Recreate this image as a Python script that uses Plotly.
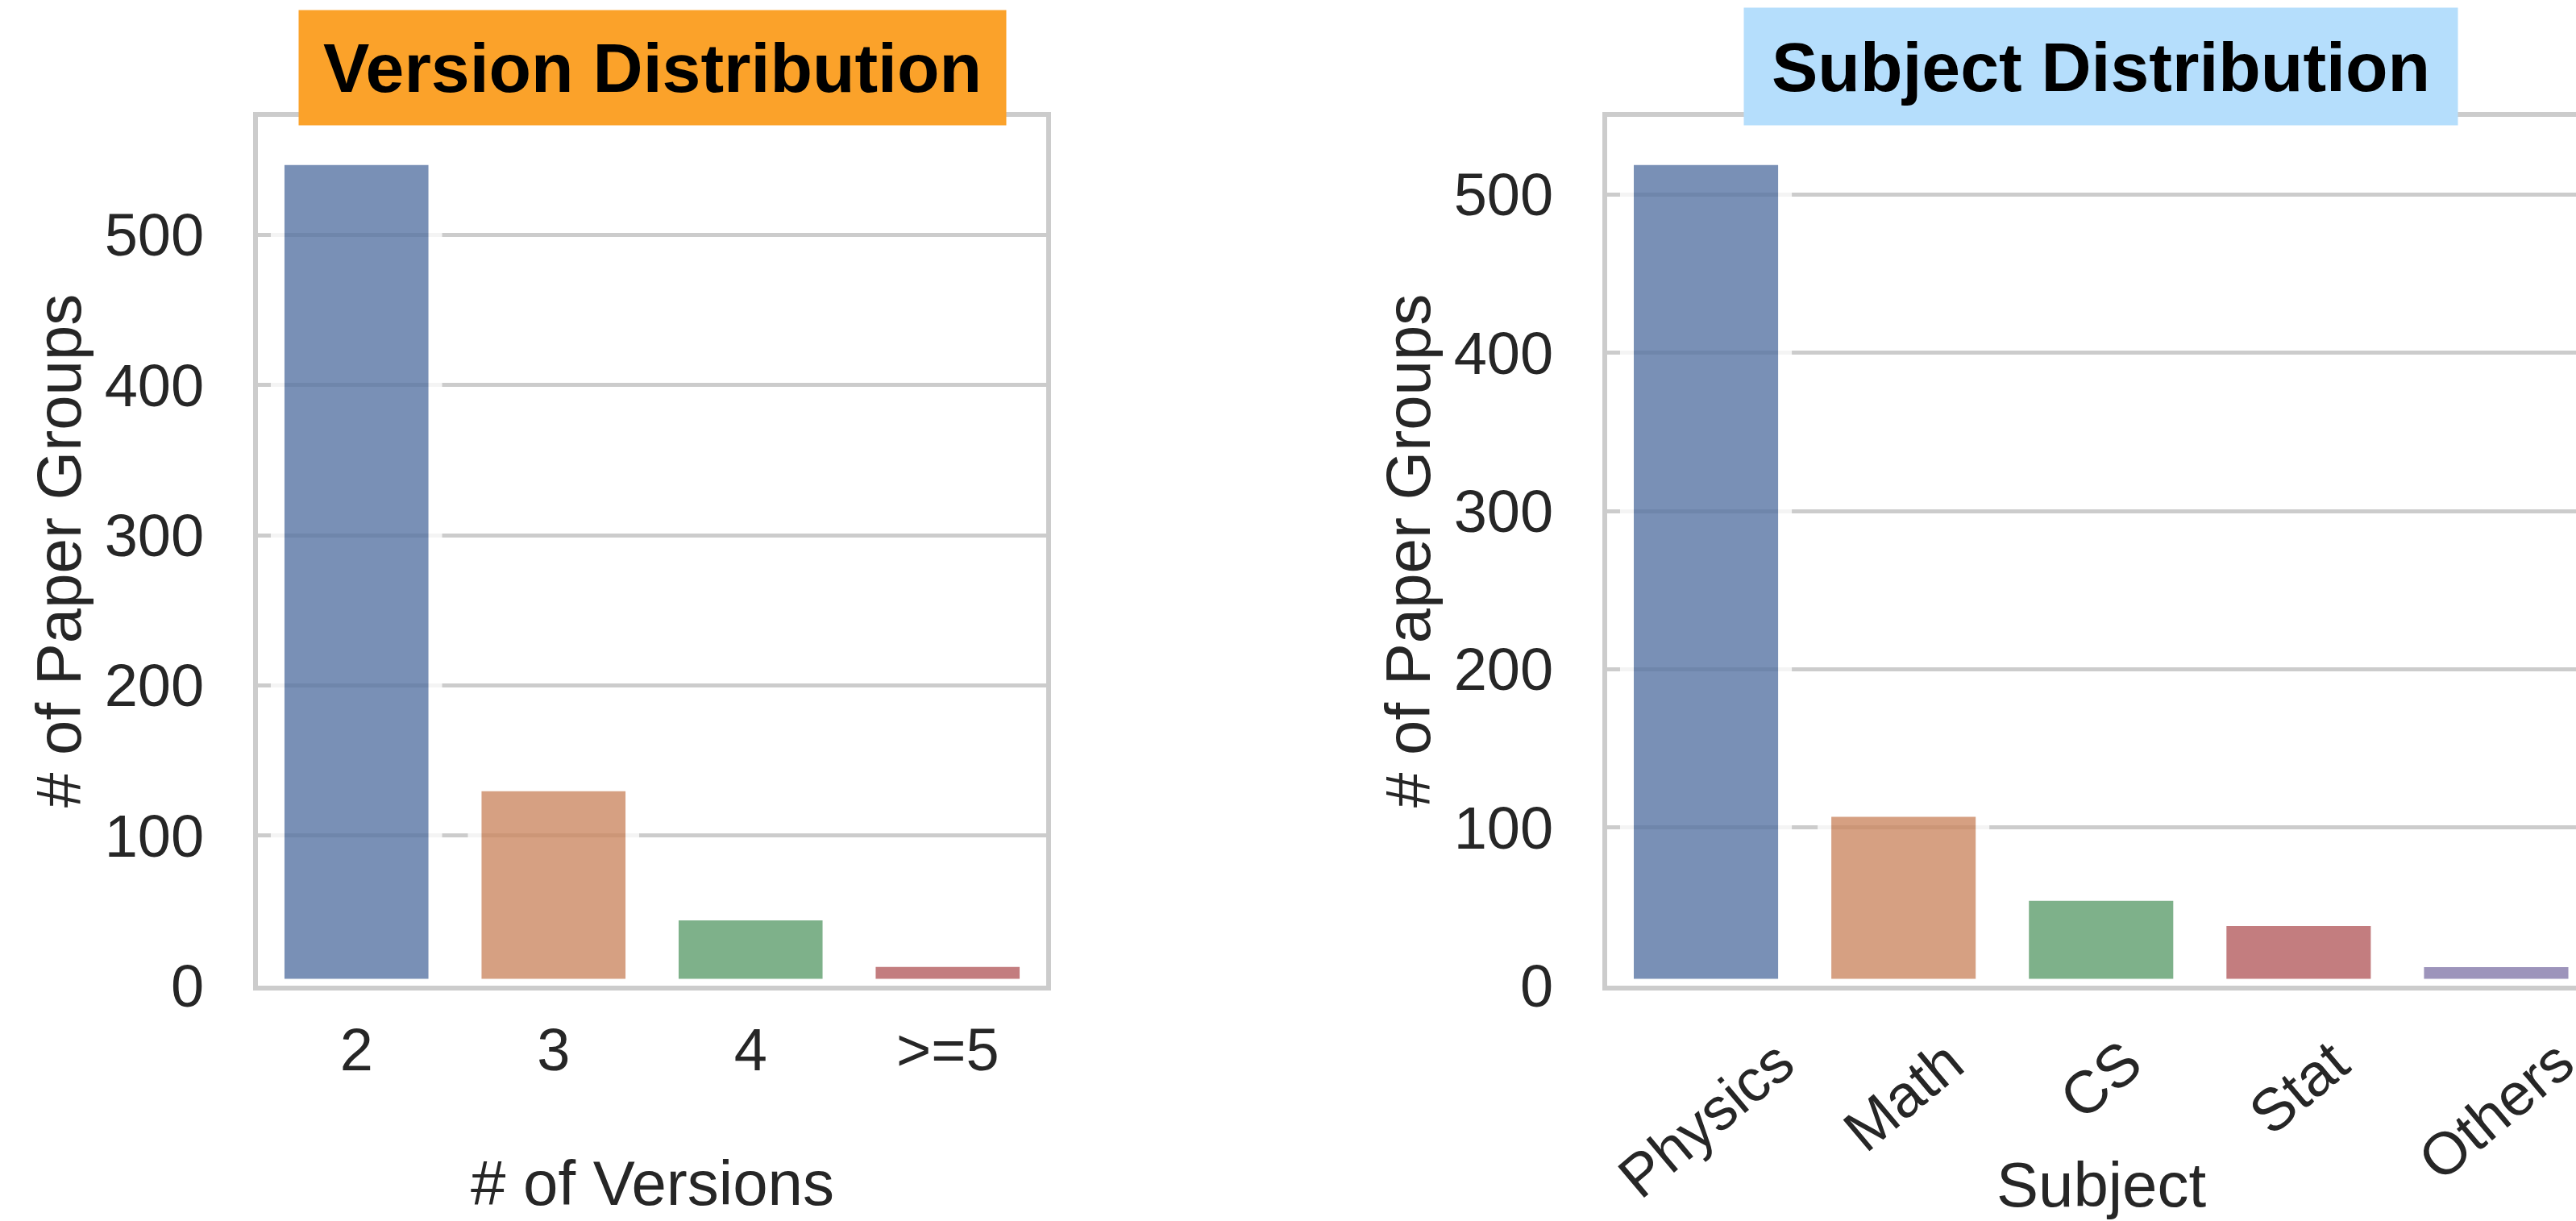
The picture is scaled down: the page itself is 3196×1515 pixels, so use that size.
import plotly.graph_objects as go

# ---- data ----
versions = ["2", "3", "4", ">=5"]
version_counts = [551, 134, 48, 17]
subjects = ["Physics", "Math", "CS", "Stat", "Others"]
subject_counts = [523, 111, 58, 42, 16]

# seaborn "deep" palette desaturated (barplot saturation=0.75)
palette = ["#5875A4", "#CC8963", "#5F9E6E", "#B55D60", "#857AAB"]

W, H = 3196, 1515
FONT = "Liberation Sans, Arial, Helvetica, sans-serif"
TXT = "#262626"
GRID = "#cccccc"

fig = go.Figure()

fig.add_trace(go.Bar(
    x=versions, y=version_counts, xaxis="x", yaxis="y",
    width=0.8,
    marker=dict(color=palette[:len(versions)], opacity=0.8,
                line=dict(color="white", width=17)),
    showlegend=False, hoverinfo="skip",
))
fig.add_trace(go.Bar(
    x=subjects, y=subject_counts, xaxis="x2", yaxis="y2",
    width=0.8,
    marker=dict(color=palette[:len(subjects)], opacity=0.8,
                line=dict(color="white", width=17)),
    showlegend=False, hoverinfo="skip",
))

ydom = [(H - 1223) / H, (H - 145) / H]
xdom1 = [320 / W, 1298 / W]
xdom2 = [1994 / W, 1.0]

common_y = dict(
    showgrid=True, gridcolor=GRID, gridwidth=5, zeroline=False,
    showline=True, linecolor=GRID, linewidth=6, automargin=False,
    tick0=0, dtick=100, ticks="", ticklabelstandoff=46,
    tickfont=dict(family=FONT, size=74, color=TXT),
)

fig.update_layout(
    width=W, height=H,
    margin=dict(l=0, r=0, t=0, b=0, autoexpand=False),
    paper_bgcolor="white", plot_bgcolor="white",
    bargap=0.2,
    xaxis=dict(domain=xdom1, type="category", range=[-0.5, 3.5],
               showgrid=False, zeroline=False, automargin=False,
               showline=True, mirror=True, linecolor=GRID, linewidth=6,
               ticks="", ticklabelstandoff=10,
               tickfont=dict(family=FONT, size=74, color=TXT)),
    yaxis=dict(domain=ydom, range=[0, 1.05 * max(version_counts)],
               mirror=True, anchor="x", **common_y),
    xaxis2=dict(domain=xdom2, type="category", range=[-0.5, 4.404],
                showgrid=False, zeroline=False, automargin=False,
                showline=True, mirror=True, linecolor=GRID, linewidth=6,
                ticks="", showticklabels=False, anchor="y2"),
    yaxis2=dict(domain=ydom, range=[0, 1.05 * max(subject_counts)],
                mirror=False, anchor="x2", **common_y),
)

ann = []
# titles with coloured boxes
ann.append(dict(text="<b>Version Distribution</b>", xref="x", yref="paper",
                x=1.5, y=1 - 12 / H, xanchor="center", yanchor="top",
                showarrow=False, bgcolor="#FBA22A", borderpad=0,
                width=877, height=142,
                font=dict(family=FONT, size=86, color="black")))
ann.append(dict(text="<b>Subject Distribution</b>", xref="x2", yref="paper",
                x=2, y=1 - 9 / H, xanchor="center", yanchor="top",
                showarrow=False, bgcolor="#B5DEFC", borderpad=0,
                width=885, height=145,
                font=dict(family=FONT, size=86, color="black")))
# axis titles
ann.append(dict(text="# of Versions", xref="x", yref="paper", x=1.5,
                y=(H - 1468) / H, xanchor="center", yanchor="middle",
                showarrow=False, font=dict(family=FONT, size=78, color=TXT)))
ann.append(dict(text="Subject", xref="x2", yref="paper", x=2,
                y=(H - 1470) / H, xanchor="center", yanchor="middle",
                showarrow=False, font=dict(family=FONT, size=78, color=TXT)))
ycen = (ydom[0] + ydom[1]) / 2
ann.append(dict(text="# of Paper Groups", xref="paper", yref="paper",
                x=73 / W, y=ycen, xanchor="center", yanchor="middle",
                textangle=-90, showarrow=False,
                font=dict(family=FONT, size=78, color=TXT)))
ann.append(dict(text="# of Paper Groups", xref="paper", yref="paper",
                x=1747 / W, y=ycen, xanchor="center", yanchor="middle",
                textangle=-90, showarrow=False,
                font=dict(family=FONT, size=78, color=TXT)))
# rotated subject tick labels
for s in subjects:
    ann.append(dict(text=s, xref="x2", yref="paper", x=s,
                    y=(H - 1272) / H, xanchor="center", yanchor="top",
                    textangle=-40, showarrow=False,
                    font=dict(family=FONT, size=74, color=TXT)))
fig.update_layout(annotations=ann)

fig.write_html("out.html", config={"displayModeBar": False},
               post_script="document.body.style.margin='0';document.body.style.overflow='hidden';")
